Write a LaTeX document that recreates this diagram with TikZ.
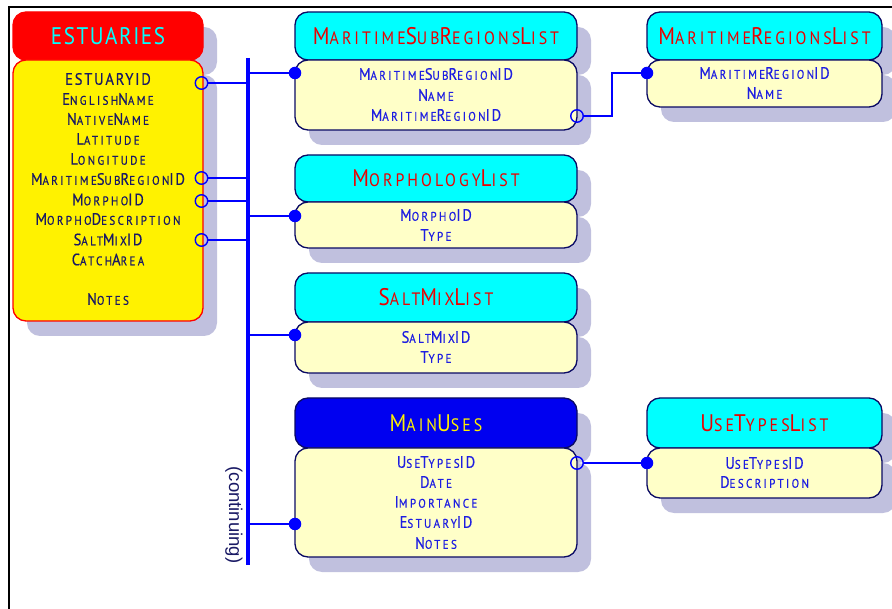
\documentclass[tikz,border=0pt]{standalone}
\usepackage{fontspec}
\usetikzlibrary{shadows}
\newfontfamily\fsmall[LetterSpace=19,FakeStretch=0.88,FakeBold=0.5]{PT Sans}
\newfontfamily\fbig[LetterSpace=11,FakeStretch=0.88,FakeBold=0.5]{PT Sans}
\newfontfamily\hsmall[LetterSpace=17,FakeStretch=0.88]{PT Sans}
\newfontfamily\hbig[LetterSpace=6.5,FakeStretch=0.88]{PT Sans}
\newfontfamily\contfont{Liberation Sans}
\definecolor{shadowc}{RGB}{192,192,222}
\definecolor{cyanc}{RGB}{0,255,255}
\definecolor{paley}{RGB}{255,255,200}
\definecolor{navyt}{RGB}{25,25,100}
\definecolor{outl}{RGB}{10,10,100}
\definecolor{fieldblue}{RGB}{30,30,225}
\definecolor{hdrred}{RGB}{235,0,0}
\definecolor{mublue}{RGB}{0,0,240}
\newcommand\Bf[1]{{\fbig\fontsize{16.5}{18}\selectfont #1}}
\newcommand\Bh[1]{{\hbig\fontsize{24}{26}\selectfont #1}}
\tikzset{
  boxbase/.style={rounded corners=13pt, draw=outl, line width=1.3pt, inner sep=0pt, outer sep=0pt,
    general shadow={fill=shadowc, shadow xshift=14pt, shadow yshift=-15pt}},
  hdr/.style={boxbase, fill=cyanc, text=hdrred, font=\hsmall\fontsize{18}{20}\selectfont},
  bodybox/.style={boxbase, fill=paley},
  fld/.style={inner sep=0pt, text=fieldblue, font=\fsmall\fontsize{12.5}{14}\selectfont},
  efld/.style={fld, text=navyt},
  ocirc/.style={circle, draw=blue, line width=1.4pt, minimum size=12.5pt, inner sep=0pt},
  fdot/.style={circle, fill=blue, minimum size=12.5pt, inner sep=0pt},
  conn/.style={draw=blue, line width=1.8pt},
}
\begin{document}
\begin{tikzpicture}[x=1pt,y=-1pt]
\useasboundingbox (0,0) rectangle (892,609);
\fill[white] (0,0) rectangle (892,609);
% frame
\draw[line width=2pt] (9,609) -- (9,7) -- (892,7);

% ESTUARIES
\node[hdr, fill=red, draw=red, text=cyanc, minimum width=190, minimum height=48] (est-h) at (108,36) {\Bh{ESTUARIES}};
\node[bodybox, fill=yellow, draw=red, minimum width=190, minimum height=261] (est-b) at (108,190.5) {};
\node[efld] (e1) at (108,79) {\Bf{ESTUARYID}};
\node[efld] (e2) at (108,99) {\Bf{E}NGLISH\Bf{N}AME};
\node[efld] (e3) at (108,119) {\Bf{N}ATIVE\Bf{N}AME};
\node[efld] (e4) at (108,139) {\Bf{L}ATITUDE};
\node[efld] (e5) at (108,159) {\Bf{L}ONGITUDE};
\node[efld] (e6) at (108,179) {\Bf{M}ARITIME\Bf{S}UB\Bf{R}EGION\Bf{ID}};
\node[efld] (e7) at (108,199.5) {\Bf{M}ORPHO\Bf{ID}};
\node[efld] (e8) at (108,219) {\Bf{M}ORPHO\Bf{D}ESCRIPTION};
\node[efld] (e9) at (108,239.5) {\Bf{S}ALT\Bf{M}IX\Bf{ID}};
\node[efld] (e10) at (108,259.5) {\Bf{C}ATCH\Bf{A}REA};
\node[efld] (e11) at (108,299) {\Bf{N}OTES};

% MaritimeSubRegionsList
\node[hdr, minimum width=282, minimum height=48] (msr-h) at (436,36) {\Bh{M}ARITIME\Bh{S}UB\Bh{R}EGIONS\Bh{L}IST};
\node[bodybox, minimum width=282, minimum height=70] (msr-b) at (436,95) {};
\node[fld] (m1) at (436,74) {\Bf{M}ARITIME\Bf{S}UB\Bf{R}EGION\Bf{ID}};
\node[fld] (m2) at (436,95) {\Bf{N}AME};
\node[fld] (m3) at (436,115) {\Bf{M}ARITIME\Bf{R}EGION\Bf{ID}};

% MorphologyList
\node[hdr, minimum width=282, minimum height=47] (mor-h) at (436,178.5) {\Bh{M}ORPHOLOGY\Bh{L}IST};
\node[bodybox, minimum width=282, minimum height=46] (mor-b) at (436,225) {};
\node[fld] (o1) at (436,215) {\Bf{M}ORPHO\Bf{ID}};
\node[fld] (o2) at (436,235) {\Bf{T}YPE};

% SaltMixList
\node[hdr, minimum width=282, minimum height=49] (sm-h) at (436,297.5) {\Bh{S}ALT\Bh{M}IX\Bh{L}IST};
\node[bodybox, minimum width=282, minimum height=51] (sm-b) at (436,347.5) {};
\node[fld] (s1) at (436,337) {\Bf{S}ALT\Bf{M}IX\Bf{ID}};
\node[fld] (s2) at (436,357) {\Bf{T}YPE};

% MainUses
\node[hdr, fill=mublue, text=yellow, minimum width=282, minimum height=50] (mu-h) at (436,423) {\Bh{M}AIN\Bh{U}SES};
\node[bodybox, minimum width=282, minimum height=109] (mu-b) at (436,502.5) {};
\node[fld] (u1) at (436,462) {\Bf{U}SE\Bf{T}YPES\Bf{ID}};
\node[fld] (u2) at (436,482) {\Bf{D}ATE};
\node[fld] (u3) at (436,502) {\Bf{I}MPORTANCE};
\node[fld] (u4) at (436,522) {\Bf{E}STUARY\Bf{ID}};
\node[fld] (u5) at (436,543) {\Bf{N}OTES};

% MaritimeRegionsList
\node[hdr, minimum width=235, minimum height=48] (mr-h) at (764.5,36) {\Bh{M}ARITIME\Bh{R}EGIONS\Bh{L}IST};
\node[bodybox, minimum width=235, minimum height=47] (mr-b) at (764.5,83.5) {};
\node[fld] (r1) at (764.5,73) {\Bf{M}ARITIME\Bf{R}EGION\Bf{ID}};
\node[fld] (r2) at (764.5,93) {\Bf{N}AME};

% UseTypesList
\node[hdr, minimum width=235, minimum height=50] (ut-h) at (764.5,423) {\Bh{U}SE\Bh{T}YPES\Bh{L}IST};
\node[bodybox, minimum width=235, minimum height=50] (ut-b) at (764.5,473) {};
\node[fld] (t1) at (764.5,463) {\Bf{U}SE\Bf{T}YPES\Bf{ID}};
\node[fld] (t2) at (764.5,482) {\Bf{D}ESCRIPTION};

% bus
\coordinate (bus-top) at (248,58);
\coordinate (bus-bot) at (248,565);
\draw[draw=blue, line width=3.2pt] (bus-top) -- (bus-bot);
\node[rotate=-90, inner sep=0pt, text=navyt, font=\contfont\fontsize{18.5}{20}\selectfont] (cont) at (234,515) {(continuing)};

% connection ends
\node[ocirc] (oc1) at (201.5,83) {};
\node[ocirc] (oc2) at (201.5,178) {};
\node[ocirc] (oc3) at (201.5,201) {};
\node[ocirc] (oc4) at (201.5,240) {};
\node[ocirc] (oc5) at (577,116) {};
\node[ocirc] (oc6) at (577,463) {};
\node[fdot] (d1) at (295,73) {};
\node[fdot] (d2) at (295,216) {};
\node[fdot] (d3) at (295,335) {};
\node[fdot] (d4) at (295,524) {};
\node[fdot] (d5) at (647,73) {};
\node[fdot] (d6) at (647,463) {};
\coordinate (jog) at (612,95);

\draw[conn] (oc1) -- (oc1 -| bus-top);
\draw[conn] (oc2) -- (oc2 -| bus-top);
\draw[conn] (oc3) -- (oc3 -| bus-top);
\draw[conn] (oc4) -- (oc4 -| bus-top);
\draw[conn] (d1 -| bus-top) -- (d1);
\draw[conn] (d2 -| bus-top) -- (d2);
\draw[conn] (d3 -| bus-top) -- (d3);
\draw[conn] (d4 -| bus-top) -- (d4);
\draw[conn] (oc5) -| (jog) |- (d5);
\draw[conn] (oc6) -- (d6);
\end{tikzpicture}
\end{document}
